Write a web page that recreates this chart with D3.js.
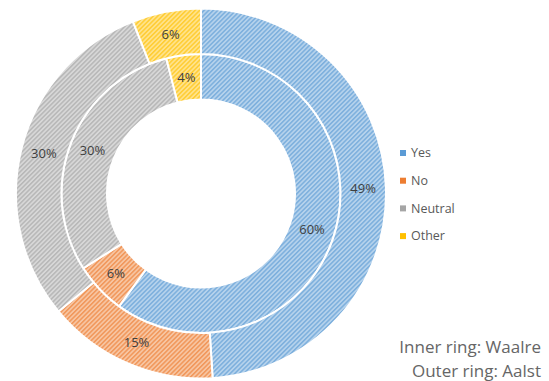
<!DOCTYPE html>
<html>
<head>
<meta charset="utf-8">
<script src="https://cdn.jsdelivr.net/npm/d3@7"></script>
<style>
  html, body { margin: 0; padding: 0; background: #fff; }
  svg { display: block; }
  text { font-family: "Open Sans", Lato, sans-serif; }
</style>
</head>
<body>
<svg id="chart" width="549" height="381"></svg>
<script>
// Survey answers per location (percent)
const categories = ["Yes", "No", "Neutral", "Other"];
const waalre = [60, 6, 30, 4];   // inner ring
const aalst = [49, 15, 30, 6];   // outer ring
const colors = ["#5B9BD5", "#ED7D31", "#A5A5A5", "#FFC000"];
const ringNotes = ["Inner ring: Waalre", "Outer ring: Aalst"];

const svg = d3.select("#chart");
const cx = 201, cy = 193.5;

// Hatched fills: light tint background with darker diagonal stripes
const defs = svg.append("defs");
colors.forEach((c, i) => {
  const bg = d3.interpolateRgb(c, "#ffffff")(0.55);
  const fg = d3.interpolateRgb(c, "#ffffff")(0.2);
  const p = defs.append("pattern")
    .attr("id", "hatch" + i)
    .attr("patternUnits", "userSpaceOnUse")
    .attr("width", 3.2).attr("height", 3.2)
    .attr("patternTransform", "rotate(45)");
  p.append("rect").attr("width", 3.2).attr("height", 3.2).attr("fill", bg);
  p.append("rect").attr("width", 1.5).attr("height", 3.2).attr("fill", fg);
});

const pie = d3.pie().sort(null).value(d => d);
const g = svg.append("g").attr("transform", `translate(${cx},${cy})`);

const rings = [
  { data: waalre, inner: 94, outer: 139.5 },
  { data: aalst, inner: 139.5, outer: 185 }
];

rings.forEach(ring => {
  const arc = d3.arc().innerRadius(ring.inner).outerRadius(ring.outer);
  const mid = (ring.inner + ring.outer) / 2;
  const labelArc = d3.arc().innerRadius(mid).outerRadius(mid);
  const arcs = pie(ring.data);
  g.append("g").selectAll("path")
    .data(arcs)
    .join("path")
    .attr("d", arc)
    .attr("fill", (d, i) => `url(#hatch${i})`)
    .attr("stroke", "#ffffff")
    .attr("stroke-width", 2);
  g.append("g").selectAll("text")
    .data(arcs)
    .join("text")
    .attr("transform", d => `translate(${labelArc.centroid(d)})`)
    .attr("text-anchor", "middle")
    .attr("dy", "0.35em")
    .attr("font-size", 13)
    .attr("fill", "#404040")
    .text(d => d.data + "%");
});

// Legend
const legend = svg.append("g").attr("transform", "translate(400,153)");
const items = legend.selectAll("g")
  .data(categories)
  .join("g")
  .attr("transform", (d, i) => `translate(0,${i * 27.7})`);
items.append("rect")
  .attr("x", 0).attr("y", -3)
  .attr("width", 6).attr("height", 6)
  .attr("fill", (d, i) => colors[i]);
items.append("text")
  .attr("x", 11).attr("dy", "0.35em")
  .attr("font-size", 12.5)
  .attr("fill", "#595959")
  .text(d => d);

// Ring notes
svg.append("g").selectAll("text")
  .data(ringNotes)
  .join("text")
  .attr("x", 541)
  .attr("y", (d, i) => 353 + i * 24)
  .attr("text-anchor", "end")
  .attr("font-size", 17)
  .attr("fill", "#666666")
  .text(d => d);
</script>
</body>
</html>
